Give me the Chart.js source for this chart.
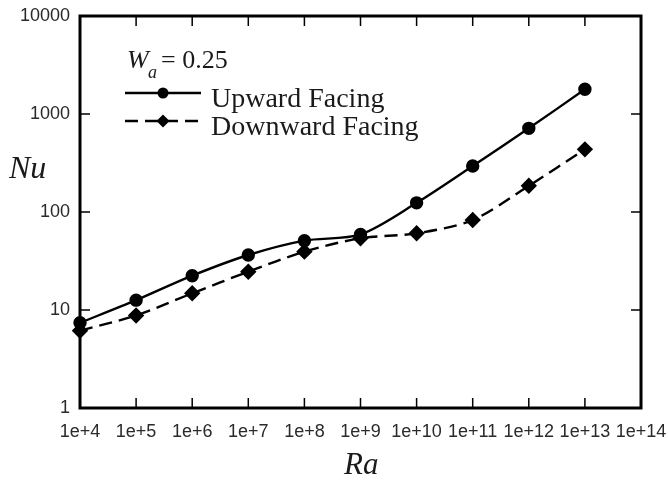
<!DOCTYPE html>
<html>
<head>
<meta charset="utf-8">
<script src="https://cdn.jsdelivr.net/npm/chart.js@4/dist/chart.umd.min.js"></script>
<style>
  html, body { margin: 0; padding: 0; background: #fff; }
  #wrap { width: 668px; height: 485px; }
</style>
</head>
<body>
<div id="wrap"><canvas id="c" width="668" height="485"></canvas></div>
<script>
// ---- Data ----
const raValues = [1e4, 1e5, 1e6, 1e7, 1e8, 1e9, 1e10, 1e11, 1e12, 1e13];
const nuUpward = [7.4, 12.6, 22.4, 36.4, 51, 59, 124, 295, 714, 1786];
const nuDownward = [6.15, 8.8, 14.8, 24.6, 39.4, 54, 60.6, 82.8, 185, 436];
const xTickValues = [1e4, 1e5, 1e6, 1e7, 1e8, 1e9, 1e10, 1e11, 1e12, 1e13, 1e14];
const xTickLabels = ['1e+4','1e+5','1e+6','1e+7','1e+8','1e+9','1e+10','1e+11','1e+12','1e+13','1e+14'];
const yTickValues = [1, 10, 100, 1000, 10000];
const yTickLabels = ['1', '10', '100', '1000', '10000'];
const seriesNames = ['Upward Facing', 'Downward Facing'];

const serif = "'Liberation Serif', 'Times New Roman', serif";
const sans = "'Liberation Sans', Arial, sans-serif";

const framePlugin = {
  id: 'frame',
  beforeDatasetsDraw(chart) {
    const {ctx, chartArea: a, scales} = chart;
    ctx.save();
    ctx.strokeStyle = '#000';
    ctx.lineWidth = 1.5;
    const tl = 10;
    xTickValues.forEach(v => {
      if (v <= 1e4 || v >= 1e14) return;
      const x = scales.x.getPixelForValue(v);
      ctx.beginPath();
      ctx.moveTo(x, a.bottom); ctx.lineTo(x, a.bottom - tl);
      ctx.moveTo(x, a.top); ctx.lineTo(x, a.top + tl);
      ctx.stroke();
    });
    yTickValues.forEach(v => {
      if (v <= 1 || v >= 10000) return;
      const y = scales.y.getPixelForValue(v);
      ctx.beginPath();
      ctx.moveTo(a.left, y); ctx.lineTo(a.left + tl, y);
      ctx.moveTo(a.right, y); ctx.lineTo(a.right - tl, y);
      ctx.stroke();
    });
    ctx.lineWidth = 3;
    ctx.strokeRect(a.left, a.top, a.right - a.left, a.bottom - a.top);
    ctx.restore();
  },
  afterDraw(chart) {
    const {ctx} = chart;
    ctx.save();
    ctx.fillStyle = '#1a1a1a';
    ctx.textBaseline = 'alphabetic';
    // axis titles
    ctx.font = "italic 32px " + serif;
    ctx.textAlign = 'left';
    ctx.fillText('Nu', 9, 178);
    ctx.font = "italic 31px " + serif;
    ctx.fillText('Ra', 344, 474);
    // W_a = 0.25
    ctx.font = "italic 26px " + serif;
    ctx.fillText('W', 127, 68);
    ctx.font = "italic 18px " + serif;
    ctx.fillText('a', 148, 78);
    ctx.font = "26px " + serif;
    ctx.fillText('= 0.25', 161, 68);
    // legend
    const rows = [{y: 93, tb: 107}, {y: 121, tb: 135}];
    chart.data.datasets.forEach((ds, i) => {
      const r = rows[i];
      ctx.save();
      ctx.strokeStyle = ds.borderColor;
      ctx.lineWidth = ds.borderWidth;
      ctx.setLineDash(ds.borderDash || []);
      ctx.beginPath();
      ctx.moveTo(125, r.y); ctx.lineTo(201, r.y);
      ctx.stroke();
      ctx.setLineDash([]);
      ctx.fillStyle = ds.pointBackgroundColor;
      if (ds.pointStyle === 'circle') {
        ctx.beginPath(); ctx.arc(163, r.y, ds.pointRadius, 0, Math.PI * 2); ctx.fill();
      } else {
        const s = ds.pointRadius;
        ctx.beginPath();
        ctx.moveTo(163, r.y - s); ctx.lineTo(163 + s, r.y);
        ctx.lineTo(163, r.y + s); ctx.lineTo(163 - s, r.y); ctx.closePath(); ctx.fill();
      }
      ctx.restore();
      ctx.font = "28px " + serif;
      ctx.fillText(ds.label, 211, r.tb);
    });
    ctx.restore();
  }
};

new Chart(document.getElementById('c'), {
  type: 'line',
  data: {
    datasets: [
      {
        label: seriesNames[0],
        data: raValues.map((x, i) => ({x, y: nuUpward[i]})),
        borderColor: '#000', backgroundColor: '#000',
        pointBackgroundColor: '#000', pointBorderColor: '#000',
        borderWidth: 2.4, pointStyle: 'circle', pointRadius: 5.5,
        tension: 0.3, clip: false
      },
      {
        label: seriesNames[1],
        data: raValues.map((x, i) => ({x, y: nuDownward[i]})),
        borderColor: '#000', backgroundColor: '#000',
        pointBackgroundColor: '#000', pointBorderColor: '#000',
        borderWidth: 2.4, borderDash: [13, 7], pointStyle: 'rectRot', pointRadius: 6.5,
        tension: 0.3, clip: false
      }
    ]
  },
  options: {
    responsive: false,
    animation: false,
    devicePixelRatio: 1,
    layout: { padding: { top: 16, right: 27, left: 0, bottom: 0 } },
    plugins: { legend: { display: false }, tooltip: { enabled: false } },
    scales: {
      x: {
        type: 'logarithmic', min: 1e4, max: 1e14,
        afterBuildTicks: s => { s.ticks = xTickValues.map(v => ({value: v})); },
        afterFit: s => { s.height = 77; s.paddingLeft = 0; s.paddingRight = 0; },
        grid: { display: false, drawTicks: false },
        border: { display: false },
        ticks: {
          autoSkip: false, maxRotation: 0, minRotation: 0, padding: 13,
          color: '#2a2a2a', font: { family: sans, size: 18 },
          callback: (v) => { const i = xTickValues.indexOf(v); return i >= 0 ? xTickLabels[i] : ''; }
        }
      },
      y: {
        type: 'logarithmic', min: 1, max: 10000,
        afterBuildTicks: s => { s.ticks = yTickValues.map(v => ({value: v})); },
        afterFit: s => { s.width = 80; s.paddingTop = 0; s.paddingBottom = 0; },
        grid: { display: false, drawTicks: false },
        border: { display: false },
        ticks: {
          autoSkip: false, padding: 10,
          color: '#2a2a2a', font: { family: sans, size: 18 },
          callback: (v) => { const i = yTickValues.indexOf(v); return i >= 0 ? yTickLabels[i] : ''; }
        }
      }
    }
  },
  plugins: [framePlugin]
});
</script>
</body>
</html>
